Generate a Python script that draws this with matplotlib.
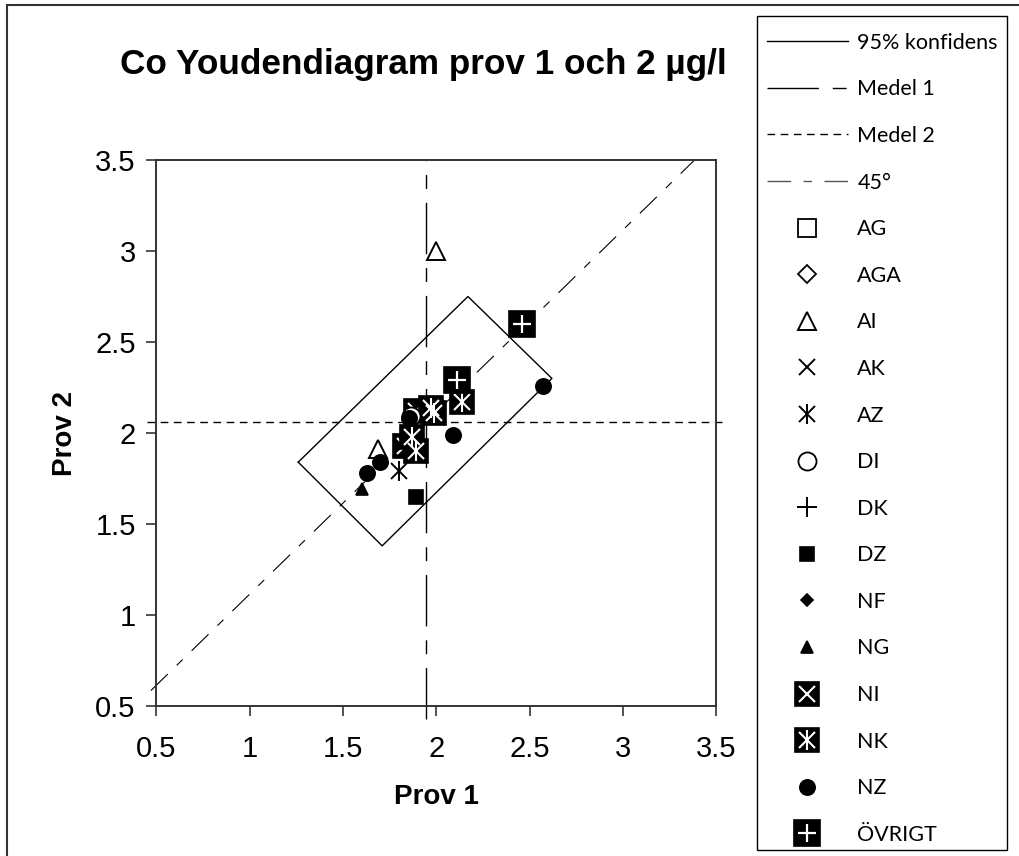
import matplotlib
matplotlib.use('Agg')
import matplotlib.pyplot as plt
from matplotlib.lines import Line2D
from matplotlib.legend_handler import HandlerTuple
from matplotlib.patches import Rectangle

plt.rcParams['font.family'] = ['Liberation Sans', 'DejaVu Sans']
plt.rcParams['lines.scale_dashes'] = False

# medelvärden och hörnen på 95%-rektangeln
medel1 = 1.945
medel2 = 2.06
konf_x = [1.26, 2.17, 2.62, 1.71, 1.26]
konf_y = [1.84, 2.75, 2.30, 1.38, 1.84]

# resultat per grupp, prov 1 (x) och prov 2 (y)
ag_x, ag_y = [], []
aga_x, aga_y = [], []
ai_x, ai_y = [2.00, 1.69], [3.00, 1.91]
ak_x, ak_y = [], []
az_x, az_y = [1.80], [1.79]
di_x, di_y = [1.865], [2.095]
dk_x, dk_y = [], []
dz_x, dz_y = [1.89], [1.65]
nf_x, nf_y = [], []
ng_x, ng_y = [1.60], [1.69]
ni_x, ni_y = [1.89, 1.83], [2.12, 1.93]
nk_x = [1.87, 1.97, 1.99, 2.14, 1.89]
nk_y = [1.98, 2.14, 2.11, 2.17, 1.90]
nz_x = [1.855, 2.09, 1.70, 1.63, 2.57]
nz_y = [2.08, 1.99, 1.84, 1.78, 2.26]
ovr_x, ovr_y = [2.11, 2.46], [2.29, 2.60]

ticks = [0.5, 1, 1.5, 2, 2.5, 3, 3.5]
tick_labels = ['0.5', '1', '1.5', '2', '2.5', '3', '3.5']


def m(marker, ms, fc='black', ec='black', mew=1.2):
    return dict(marker=marker, ms=ms, mfc=fc, mec=ec, mew=mew)


svart_ruta = m('s', 17)
serier = [
    ('AG', ag_x, ag_y, [m('s', 13.5, fc='white', mew=1.3)], 3),
    ('AGA', aga_x, aga_y, [m('D', 9, fc='white', mew=1.3)], 3),
    ('AI', ai_x, ai_y, [m('^', 13, fc='white', mew=1.4)], 3),
    ('AK', ak_x, ak_y, [m('x', 12, mew=1.4)], 3),
    ('AZ', az_x, az_y, [m('x', 12, mew=1.4), m('|', 15, mew=1.4)], 3),
    ('DI', di_x, di_y, [m('o', 13, fc='white', mew=1.3)], 4),
    ('DK', dk_x, dk_y, [m('+', 14, mew=1.4)], 3),
    ('DZ', dz_x, dz_y, [m('s', 10.5)], 3),
    ('NF', nf_x, nf_y, [m('D', 6.5)], 3),
    ('NG', ng_x, ng_y, [m('^', 9)], 3),
    ('NI', ni_x, ni_y, [svart_ruta, m('x', 11.5, ec='white', mew=1.5)], 3.2),
    ('NK', nk_x, nk_y, [svart_ruta, m('x', 11.5, ec='white', mew=1.5),
                        m('|', 14.5, ec='white', mew=1.5)], 3.3),
    ('NZ', nz_x, nz_y, [m('o', 11)], 4.5),
    ('ÖVRIGT', ovr_x, ovr_y, [m('s', 18.5), m('+', 13.5, ec='white', mew=1.6)], 5),
]

fig = plt.figure(figsize=(10.2, 8.56), dpi=100)
ax = fig.add_axes([0.1534, 0.1752, 0.5486, 0.6379])

# 95% konfidens, medellinjer och 45-graderslinjen
ax.plot(konf_x, konf_y, color='black', lw=1.0, zorder=2)
ax.plot([medel1, medel1], [0.43, 3.5], color='black', lw=1.0,
        dashes=(37, 10, 10, 10), clip_on=False, zorder=2)
ax.plot([0.45, 3.56], [medel2, medel2], color='black', lw=1.0,
        dashes=(5.5, 4), clip_on=False, zorder=2)
diff = medel2 - medel1
ax.plot([0.47, 3.5 - diff], [0.47 + diff, 3.5], color='black', lw=0.8,
        dashes=(17, 9, 6, 9), clip_on=False, zorder=2)

handles = [
    Line2D([], [], color='black', lw=1.0),
    Line2D([], [], color='black', lw=1.0, dashes=(37, 10, 10, 10)),
    Line2D([], [], color='black', lw=1.0, dashes=(5.5, 4)),
    Line2D([], [], color='#555555', lw=1.0, dashes=(17, 9, 6, 9)),
]
labels = ['95% konfidens', 'Medel 1', 'Medel 2', '45°']

for namn, xs, ys, lager, z in serier:
    h = []
    for st in lager:
        ax.plot(xs, ys, ls='none', zorder=z, **st)
        h.append(Line2D([], [], ls='none', **st))
    handles.append(tuple(h) if len(h) > 1 else h[0])
    labels.append(namn)

ax.set_xlim(0.5, 3.5)
ax.set_ylim(0.5, 3.5)
ax.set_xticks(ticks)
ax.set_xticklabels(tick_labels)
ax.set_yticks(ticks)
ax.set_yticklabels(tick_labels)
ax.tick_params(direction='out', length=7, width=1.2, labelsize=21,
               color='#333333')
ax.tick_params(axis='x', pad=14)
ax.tick_params(axis='y', pad=8)
for sp in ax.spines.values():
    sp.set_color('#333333')
    sp.set_linewidth(1.4)

ax.set_xlabel('Prov 1', fontsize=20, fontweight='bold', labelpad=15)
ax.set_ylabel('Prov 2', fontsize=20, fontweight='bold', labelpad=12)
fig.text(0.415, 0.925, 'Co Youdendiagram prov 1 och 2 µg/l', fontsize=25.3,
         fontweight='bold', ha='center', va='center')

# förklaringen utan egen ram, ramen ritas separat nedan
leg = fig.legend(handles, labels, loc='upper left',
                 bbox_to_anchor=(755 / 1020, 1 - 21 / 856), borderaxespad=0,
                 prop={'family': ['Lato', 'DejaVu Sans'], 'size': 15.5},
                 handler_map={tuple: HandlerTuple(ndivide=1, pad=0)},
                 handlelength=3.75, handletextpad=0.45, labelspacing=1.235,
                 borderpad=0.55, frameon=False)
fig.patches.append(Rectangle((757 / 1020, 1 - 850 / 856), 250 / 1020,
                             834 / 856, transform=fig.transFigure,
                             fill=False, edgecolor='black', lw=1.0))

# ram runt hela diagrammet
fig.patches.append(Rectangle((7 / 1020, -0.02), 1.05, 1.02 - 5 / 856,
                             transform=fig.transFigure, fill=False,
                             edgecolor='#333333', lw=1.5))

fig.savefig('out.png', dpi=100)
